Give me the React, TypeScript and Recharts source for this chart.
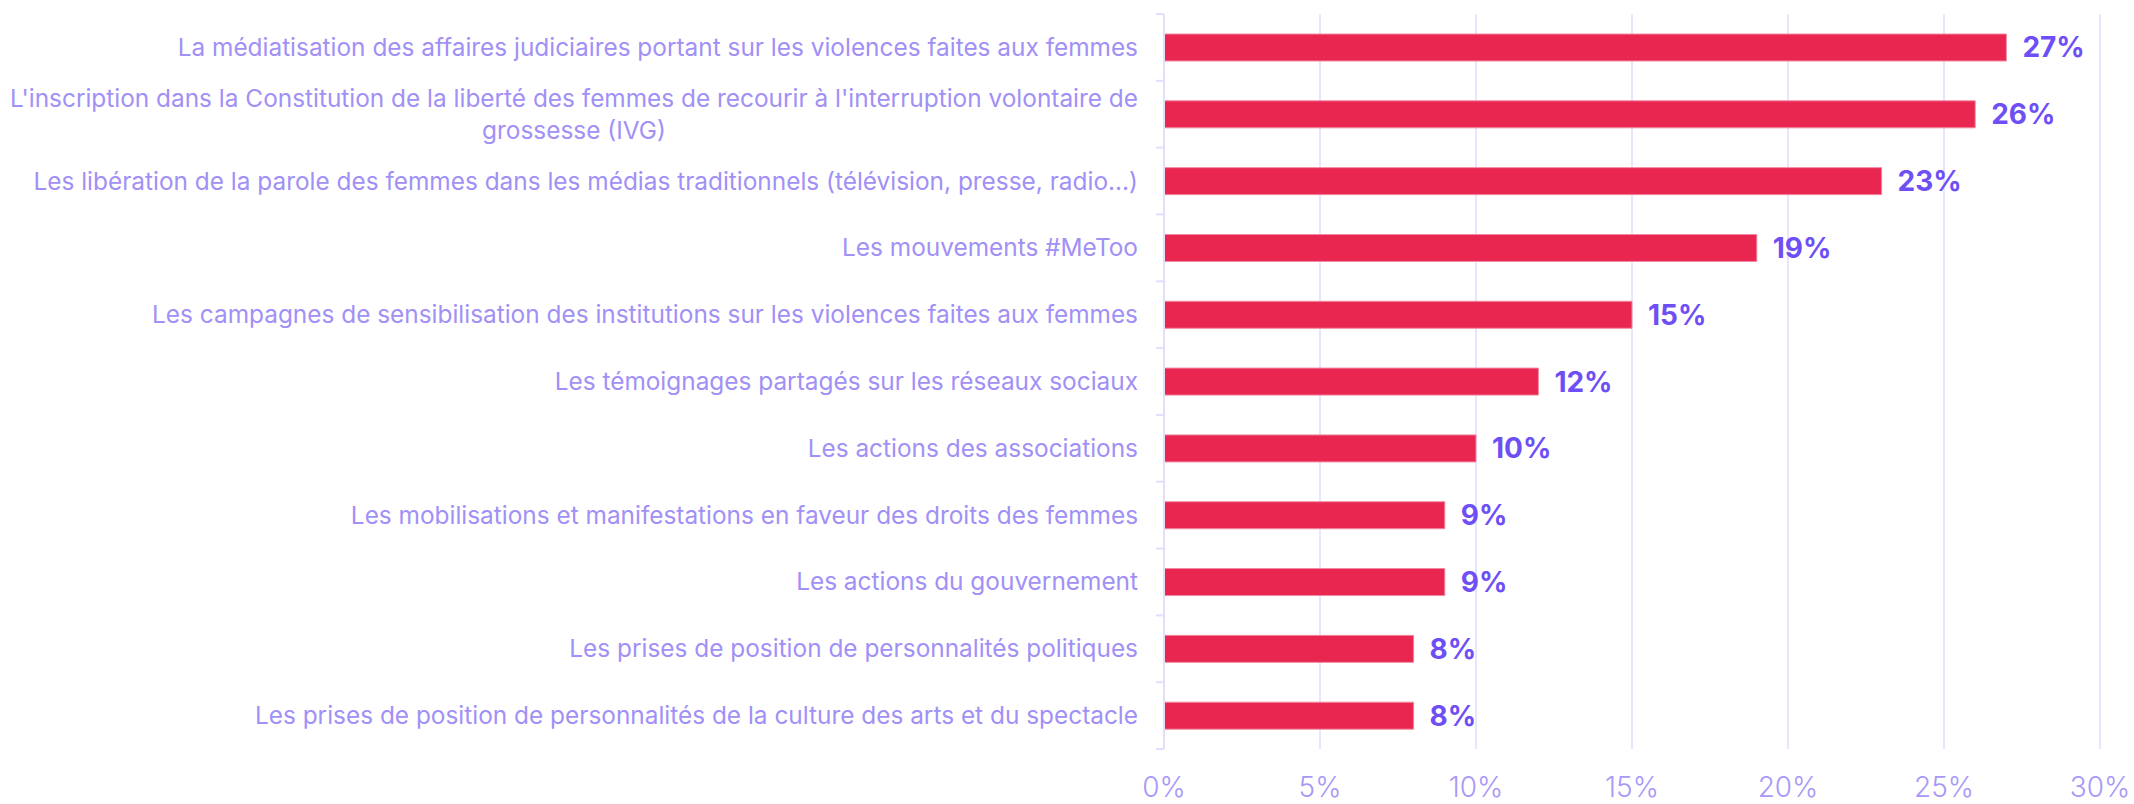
import React from 'react'
import { BarChart, Bar, XAxis, YAxis, CartesianGrid, LabelList } from 'recharts'

const CATEGORIES = [
  'La médiatisation des affaires judiciaires portant sur les violences faites aux femmes',
  "L'inscription dans la Constitution de la liberté des femmes de recourir à l'interruption volontaire de\ngrossesse (IVG)",
  'Les libération de la parole des femmes dans les médias traditionnels (télévision, presse, radio...)',
  'Les mouvements #MeToo',
  'Les campagnes de sensibilisation des institutions sur les violences faites aux femmes',
  'Les témoignages partagés sur les réseaux sociaux',
  'Les actions des associations',
  'Les mobilisations et manifestations en faveur des droits des femmes',
  'Les actions du gouvernement',
  'Les prises de position de personnalités politiques',
  'Les prises de position de personnalités de la culture des arts et du spectacle',
]
const VALUES = [27, 26, 23, 19, 15, 12, 10, 9, 9, 8, 8]
const X_TICKS = [0, 5, 10, 15, 20, 25, 30]

const data = CATEGORIES.map((name, i) => ({ name, value: VALUES[i] }))

const FONT = 'Inter, "Noto Sans", sans-serif'
const LABEL_SIZE = 24.4
const AXIS_COLOR = '#E2DEFB'
const LABEL_COLOR = '#A190F6'
const VALUE_COLOR = '#6E4FF6'

let ctx: CanvasRenderingContext2D | null = null
const measure = (s: string) => {
  if (!ctx) ctx = document.createElement('canvas').getContext('2d')
  if (!ctx) return s.length * LABEL_SIZE * 0.5
  ctx.font = `${LABEL_SIZE}px Inter`
  return ctx.measureText(s).width
}

// category label, plus the little tick marks between categories
function CategoryTick(props: any) {
  const { x, y, payload, index } = props
  const lines = String(payload.value).split('\n')
  const half = payload.offset ?? 0
  const axisX = x + 26
  const lineH = 32
  const startY = y - ((lines.length - 1) * lineH) / 2
  const multi = lines.length > 1
  const widest = Math.max(...lines.map(measure))
  const tx = multi ? x - widest / 2 : x
  return (
    <g>
      <line x1={axisX - 8} x2={axisX} y1={y - half} y2={y - half} stroke={AXIS_COLOR} strokeWidth={2} />
      {index === CATEGORIES.length - 1 && (
        <line x1={axisX - 8} x2={axisX} y1={y + half} y2={y + half} stroke={AXIS_COLOR} strokeWidth={2} />
      )}
      <text
        x={tx}
        y={startY}
        textAnchor={multi ? 'middle' : 'end'}
        fill={LABEL_COLOR}
        fontSize={LABEL_SIZE}
        fontFamily={FONT}
      >
        {lines.map((l, i) => (
          <tspan key={i} x={tx} y={startY + i * lineH} dy="0.35em">
            {l}
          </tspan>
        ))}
      </text>
    </g>
  )
}

export default function App() {
  return (
    <div style={{ position: 'absolute', left: 0, top: 0, width: 2134, height: 804, background: '#fff' }}>
      <BarChart
        width={2134}
        height={804}
        data={data}
        layout="vertical"
        margin={{ top: 14, right: 34, left: 0, bottom: 0 }}
      >
        <CartesianGrid horizontal={false} stroke="#E8E5FC" strokeWidth={2} />
        <XAxis
          type="number"
          domain={[0, 30]}
          ticks={X_TICKS}
          tickFormatter={(v) => `${v}%`}
          axisLine={false}
          tickLine={false}
          tickSize={0}
          tickMargin={28}
          height={55}
          tick={{ fill: '#A898F7', fontSize: 28, fontFamily: FONT, fontWeight: 300 }}
        />
        <YAxis
          type="category"
          dataKey="name"
          width={1164}
          axisLine={{ stroke: AXIS_COLOR, strokeWidth: 2 }}
          tickLine={false}
          tickSize={0}
          tickMargin={26}
          interval={0}
          tick={<CategoryTick />}
        />
        <Bar dataKey="value" fill="#E9264F" stroke="#F08AA2" strokeWidth={1} barSize={27} isAnimationActive={false}>
          <LabelList
            dataKey="value"
            position="right"
            offset={16}
            formatter={(v: any) => `${v}%`}
            style={{ fill: VALUE_COLOR, fontSize: 28, fontWeight: 700, fontFamily: FONT }}
          />
        </Bar>
      </BarChart>
    </div>
  )
}
